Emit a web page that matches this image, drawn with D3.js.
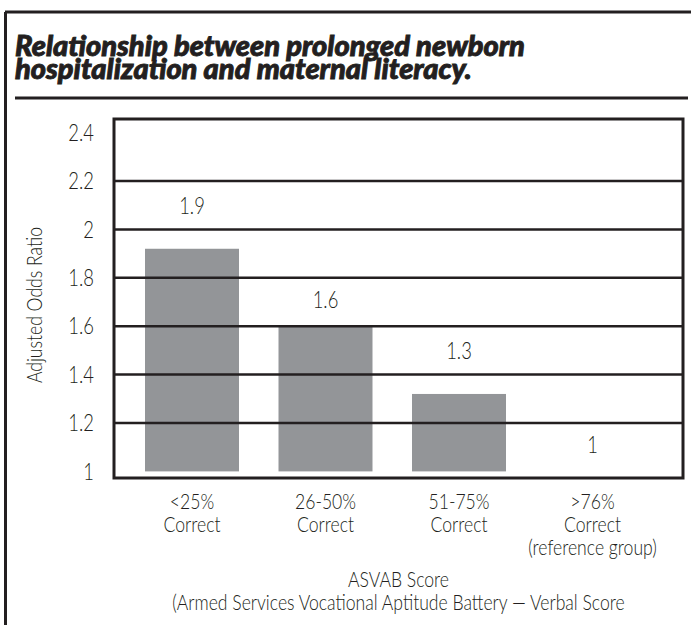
<!DOCTYPE html>
<html>
<head>
<meta charset="utf-8">
<script src="https://cdn.jsdelivr.net/npm/d3@7"></script>
<style>
  body { margin: 0; background: #fff; }
  text { fill: #231f20; }
</style>
</head>
<body>
<div id="chart"></div>
<script>
const categories = ["<25%|Correct", "26-50%|Correct", "51-75%|Correct", ">76%|Correct|(reference group)"];
const oddsRatios = [1.92, 1.6, 1.32, 1.0];
const valueLabels = ["1.9", "1.6", "1.3", "1"];
const yTicks = [1, 1.2, 1.4, 1.6, 1.8, 2, 2.2, 2.4];
const titleLines = ["Relationship between prolonged newborn", "hospitalization and maternal literacy."];
const xTitleLines = ["ASVAB Score", "(Armed Services Vocational Aptitude Battery \u2014 Verbal Score"];

const W = 691, H = 625;
const plot = { left: 114, right: 683, top: 119, bottom: 478 };
const ink = "#231f20";
const lightFont = "Lato, Roboto, sans-serif";
const squeeze = 0.8;   // the original uses a condensed light face

const svg = d3.select("#chart").append("svg")
  .attr("width", W)
  .attr("height", H);

// light condensed label helper
function light(sel, size) {
  return sel
    .style("font-family", lightFont)
    .style("font-weight", 300)
    .style("font-size", size + "px");
}

// outer frame
svg.append("line").attr("x1", 5).attr("x2", W).attr("y1", 12).attr("y2", 12)
  .attr("stroke", ink).attr("stroke-width", 3);
svg.append("line").attr("x1", 5.5).attr("x2", 5.5).attr("y1", 12).attr("y2", H)
  .attr("stroke", ink).attr("stroke-width", 3);

// title
svg.append("g")
  .selectAll("text")
  .data(titleLines)
  .join("text")
  .attr("x", 15)
  .attr("y", (d, i) => 56 + i * 23)
  .style("font-family", "Lato, 'Open Sans', sans-serif")
  .style("font-weight", 900)
  .style("font-style", "italic")
  .style("font-size", "29px")
  .attr("stroke", ink)
  .attr("stroke-width", 0.9)
  .text(d => d);

svg.append("line").attr("x1", 15).attr("x2", 688).attr("y1", 98).attr("y2", 98)
  .attr("stroke", ink).attr("stroke-width", 3);

const y = d3.scaleLinear()
  .domain([1, 2.2])
  .range([471.4, 181]);

const x = d3.scaleBand()
  .domain(categories)
  .range([125.25, 659.25])
  .paddingInner(0.296)
  .paddingOuter(0.148);

// bars
svg.append("g")
  .selectAll("rect")
  .data(categories)
  .join("rect")
  .attr("x", d => x(d))
  .attr("width", x.bandwidth())
  .attr("y", (d, i) => y(oddsRatios[i]))
  .attr("height", (d, i) => y(1) - y(oddsRatios[i]))
  .attr("fill", "#939598");

// gridlines drawn over the bars
svg.append("g")
  .selectAll("line")
  .data(yTicks.filter(t => t > 1 && t < 2.4))
  .join("line")
  .attr("x1", plot.left)
  .attr("x2", plot.right)
  .attr("y1", d => y(d))
  .attr("y2", d => y(d))
  .attr("stroke", ink)
  .attr("stroke-width", 2.5);

svg.append("rect")
  .attr("x", plot.left)
  .attr("y", plot.top)
  .attr("width", plot.right - plot.left)
  .attr("height", plot.bottom - plot.top)
  .attr("fill", "none")
  .attr("stroke", ink)
  .attr("stroke-width", 3);

// y tick labels
svg.append("g")
  .selectAll("text")
  .data(yTicks)
  .join("text")
  .attr("transform", d => `translate(94,${y(d)}) scale(${squeeze},1)`)
  .attr("dy", "0.36em")
  .attr("text-anchor", "end")
  .call(light, 23)
  .text(d => d);

svg.append("text")
  .attr("transform", `translate(42,305) rotate(-90) scale(${squeeze},1)`)
  .attr("text-anchor", "middle")
  .call(light, 22)
  .text("Adjusted Odds Ratio");

// value labels above bars (alternating offset like the original)
svg.append("g")
  .selectAll("text")
  .data(categories)
  .join("text")
  .attr("transform", (d, i) =>
    `translate(${x(d) + x.bandwidth() / 2},${y(oddsRatios[i]) - (i % 2 === 0 ? 35 : 18)}) scale(${squeeze},1)`)
  .attr("text-anchor", "middle")
  .call(light, 23)
  .text((d, i) => valueLabels[i]);

// category labels
svg.append("g")
  .selectAll("g")
  .data(categories)
  .join("g")
  .attr("transform", d => `translate(${x(d) + x.bandwidth() / 2},0)`)
  .selectAll("text")
  .data(d => d.split("|"))
  .join("text")
  .attr("transform", (d, i) => `translate(0,${509 + i * 23}) scale(${squeeze},1)`)
  .attr("text-anchor", "middle")
  .call(light, 22)
  .text(d => d);

// x title
svg.append("g")
  .selectAll("text")
  .data(xTitleLines)
  .join("text")
  .attr("transform", (d, i) => `translate(${(plot.left + plot.right) / 2},${587 + i * 23}) scale(${squeeze},1)`)
  .attr("text-anchor", "middle")
  .call(light, 22)
  .text(d => d);
</script>
</body>
</html>
